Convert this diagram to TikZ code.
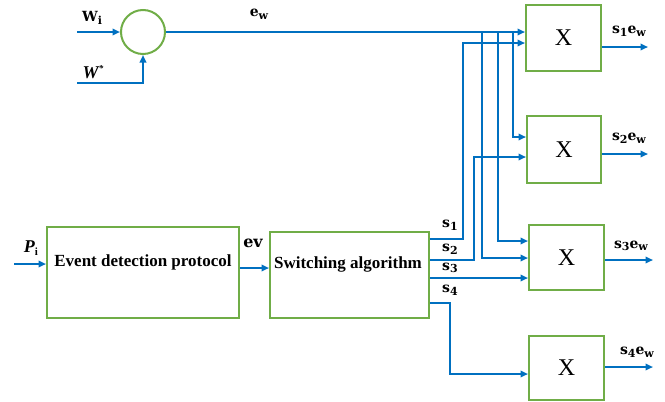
\documentclass[tikz,border=0pt]{standalone}
\usepackage{fontspec}
\setmainfont{Liberation Serif}
\newfontfamily\sigfont{DejaVu Serif}
\usetikzlibrary{arrows.meta}
\definecolor{gr}{RGB}{112,173,71}
\definecolor{bl}{RGB}{0,112,192}
\newcommand\lsub[1]{\raisebox{-0.35ex}{\fontsize{11}{11}\selectfont #1}}
\newcommand\lsup[1]{\raisebox{0.9ex}{\fontsize{9}{9}\selectfont #1}}
\begin{document}
\begin{tikzpicture}[x=1pt,y=-1pt,
 blk/.style={draw=gr,line width=2pt,inner sep=0pt,anchor=north west},
 xbox/.style={blk,font=\fontsize{24}{24}\selectfont},
 wire/.style={draw=bl,line width=1.9pt},
 arr/.style={wire,-{Triangle[length=7.5pt,width=6.5pt]}},
 lbl/.style={font=\bfseries\fontsize{17}{17}\selectfont,inner sep=0pt},
 sig/.style={font=\sigfont\bfseries\fontsize{14}{14}\selectfont,inner sep=0pt},
 sigi/.style={font=\bfseries\itshape\fontsize{18}{18}\selectfont,inner sep=0pt}]
\useasboundingbox (0,0) rectangle (665,402);
% circle
\node[draw=gr,line width=2pt,circle,minimum size=44pt,inner sep=0pt] (c) at (143,32) {};
% multiplier boxes
\node[xbox,minimum width=75pt,minimum height=66pt] (b1) at (525,4) {X};
\node[xbox,minimum width=74pt,minimum height=67pt] (b2) at (526,115) {X};
\node[xbox,minimum width=75pt,minimum height=65pt] (b3) at (528,224) {X};
\node[xbox,minimum width=75pt,minimum height=64pt] (b4) at (528,335) {X};
% main blocks
\node[blk,minimum width=192pt,minimum height=91pt] (ev) at (46,226) {};
\node[blk,minimum width=159pt,minimum height=86pt] (sw) at (269,231) {};
\node[lbl] (evt) at (143,262) {Event detection protocol};
\node[lbl] (swt) at (348,264) {Switching algorithm};
% free ends
\coordinate (wi) at (77,32);
\coordinate (ws) at (77,83);
\coordinate (pi) at (14,264);
\coordinate (j1) at (482,32);
\coordinate (j2) at (498,32);
\coordinate (j3) at (513,32);
\coordinate (o1) at (648,47);
\coordinate (o2) at (648,154);
\coordinate (o3) at (653,260);
\coordinate (o4) at (653,367);
% inputs
\draw[arr] (wi) -- (c.west);
\draw[arr] (ws) -| (c.south);
\draw[arr] (c.east) -- (c.east -| b1.west);
\draw[arr] (pi) -- (ev.west |- pi);
\draw[arr] (ev.east |- 0,268) -- (sw.west |- 0,268);
% switch outputs
\draw[arr] (sw.east |- 0,239) -| (463,43) -- (b1.west |- 0,43);
\draw[arr] (sw.east |- 0,260) -| (474,157) -- (b2.west |- 0,157);
\draw[arr] (sw.east |- 0,278) -- (b3.west |- 0,278);
\draw[arr] (sw.east |- 0,303) -| (450,374) -- (b4.west |- 0,374);
% ew branches
\draw[arr] (j3) |- (b2.west |- 0,137);
\draw[arr] (j2) |- (b3.west |- 0,241);
\draw[arr] (j1) |- (b3.west |- 0,258);
% outputs
\draw[arr] (b1.east |- o1) -- (o1);
\draw[arr] (b2.east |- o2) -- (o2);
\draw[arr] (b3.east |- o3) -- (o3);
\draw[arr] (b4.east |- o4) -- (o4);
% labels
\node[sig] (lwi) at (92,18) {W\lsub{i}};
\node[sigi] (lws) at (93,72) {W\lsup{*}};
\node[sigi] (lpi) at (31,248) {P\lsub{\upshape i}};
\node[sig] (lew) at (259,14) {e\lsub{w}};
\node[sig,font=\sigfont\bfseries\fontsize{16}{16}\selectfont] (lev) at (253,243) {ev};
\node[sig] (ls1) at (450,225) {s\lsub{1}};
\node[sig] (ls2) at (450,249) {s\lsub{2}};
\node[sig] (ls3) at (450,268) {s\lsub{3}};
\node[sig] (ls4) at (450,290) {s\lsub{4}};
\node[sig] (lo1) at (629,31) {s\lsub{1}e\lsub{w}};
\node[sig] (lo2) at (629,138) {s\lsub{2}e\lsub{w}};
\node[sig] (lo3) at (631,246) {s\lsub{3}e\lsub{w}};
\node[sig] (lo4) at (637,352) {s\lsub{4}e\lsub{w}};
\end{tikzpicture}
\end{document}
